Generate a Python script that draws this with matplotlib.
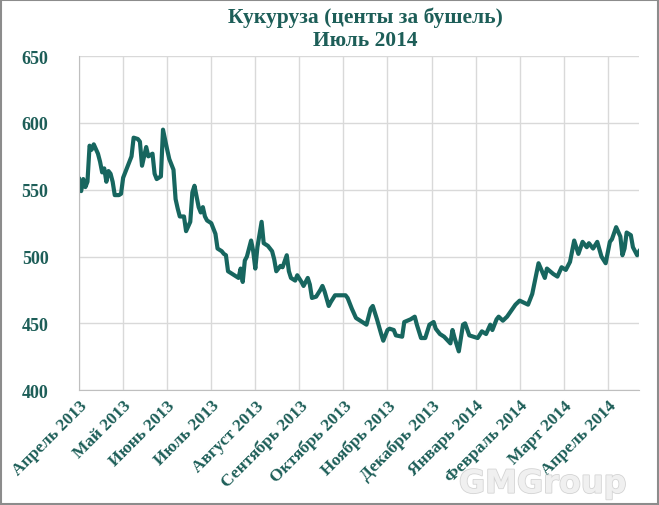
import matplotlib
matplotlib.use('Agg')
from matplotlib import pyplot as plt
from matplotlib.patches import Rectangle
import matplotlib.patheffects as pe

# trading session number (21 sessions per month tick) and price, cents per bushel
session = [0, 1, 2, 3, 4, 5, 6, 7, 9, 10, 11, 12, 13, 14, 15, 16, 17, 19, 20, 21,
           23, 25, 26, 28, 29, 30, 32, 33, 35, 36, 37, 39, 40, 42, 43, 45, 46, 47, 48, 50,
           51, 53, 54, 55, 57, 58, 59, 60, 61, 63, 65, 66, 68, 69, 70, 71, 73, 74, 76, 77,
           78, 79, 80, 82, 83, 84, 85, 87, 88, 90, 92, 93, 94, 96, 97, 99, 100, 101, 103, 104,
           106, 107, 109, 110, 111, 113, 115, 116, 117, 119, 120, 122, 123, 125, 127, 128, 130, 132, 135, 137,
           139, 140, 142, 144, 145, 147, 148, 150, 151, 154, 155, 158, 160, 161, 163, 165, 167, 169, 170, 172,
           174, 177, 178, 179, 181, 182, 183, 184, 186, 188, 190, 192, 194, 196, 197, 199, 200, 202, 204, 208,
           210, 214, 216, 219, 222, 223, 226, 228, 230, 232, 234, 236, 238, 240, 242, 243, 245, 247, 249, 251,
           253, 254, 256, 258, 259, 260, 261, 263, 264, 266, 267]
price = [558, 549, 558, 552, 556, 583, 580, 584, 577, 571, 563, 566, 556, 564, 562, 556, 546, 546, 547, 559,
         567, 575, 589, 588, 586, 568, 582, 575, 577, 562, 558, 560, 595, 580, 573, 565, 543, 536, 530, 530,
         519, 526, 548, 553, 537, 533, 537, 530, 527, 525, 517, 506, 504, 502, 501, 489, 487, 486, 484, 491,
         481, 497, 500, 512, 504, 491, 507, 526, 510, 508, 504, 498, 489, 493, 492, 501, 489, 484, 482, 486,
         481, 478, 484, 479, 469, 470, 475, 478, 474, 463, 466, 471, 471, 471, 471, 469, 461, 454, 451, 449,
         461, 463, 453, 442, 437, 445, 446, 445, 441, 440, 451, 453, 455, 449, 439, 439, 449, 451, 446, 442,
         440, 435, 445, 439, 429, 439, 449, 450, 441, 440, 439, 444, 442, 449, 445, 453, 455, 452, 455, 464,
         467, 464, 472, 495, 484, 491, 487, 485, 492, 490, 496, 512, 502, 511, 507, 510, 506, 511, 500, 495,
         511, 513, 522, 515, 501, 506, 518, 516, 507, 501, 504]

month_labels = ['Апрель 2013', 'Май 2013', 'Июнь 2013', 'Июль 2013', 'Август 2013',
                'Сентябрь 2013', 'Октябрь 2013', 'Ноябрь 2013', 'Декабрь 2013',
                'Январь 2014', 'Февраль 2014', 'Март 2014', 'Апрель 2014']
month_start = [21 * i for i in range(len(month_labels))]
y_ticks = [400, 450, 500, 550, 600, 650]

teal = '#1D5E58'
line_col = '#17665F'
grid_col = '#D9D9D9'
serif = 'Liberation Serif'

fig = plt.figure(figsize=(6.59, 5.06), dpi=100)
ax = fig.add_axes([0.12, 0.227, 0.85, 0.66])

ax.plot(session, price, color=line_col, lw=3.0, solid_joinstyle='round')

ax.set_xlim(0, 267)
ax.set_ylim(400, 650)
ax.set_yticks(y_ticks)
ax.set_xticks(month_start)
ax.set_xticklabels(month_labels, rotation=45, ha='right', rotation_mode='anchor',
                   fontsize=12.5, fontweight='bold', family=serif, color=teal)
for lab in ax.get_yticklabels():
    lab.set_fontsize(13)
    lab.set_fontweight('bold')
    lab.set_family(serif)
    lab.set_color(teal)

ax.grid(True, color=grid_col, lw=1)
ax.set_axisbelow(True)
ax.tick_params(axis='y', length=0, pad=22)
ax.tick_params(axis='x', length=0, pad=5)
for s in ['top', 'right']:
    ax.spines[s].set_visible(False)
ax.spines['left'].set_color('#BFBFBF')
ax.spines['bottom'].set_color('#BFBFBF')

fig.text(0.555, 0.965, 'Кукуруза (центы за бушель)', ha='center', va='center',
         fontsize=15.5, fontweight='bold', family=serif, color=teal)
fig.text(0.555, 0.918, 'Июль 2014', ha='center', va='center',
         fontsize=15.5, fontweight='bold', family=serif, color=teal)

fig.text(0.824, 0.041, 'GMGroup', ha='center', va='center', fontsize=23,
         fontweight='bold', color='#F0F0F0', family='DejaVu Sans',
         path_effects=[pe.withStroke(linewidth=1.2, foreground='#D4D4D4')])

fig.patches.append(Rectangle((0.002, 0.002), 0.996, 0.996, transform=fig.transFigure,
                             fill=False, edgecolor='#8C8C8C', lw=1.5))

fig.savefig('out.png', dpi=100)
